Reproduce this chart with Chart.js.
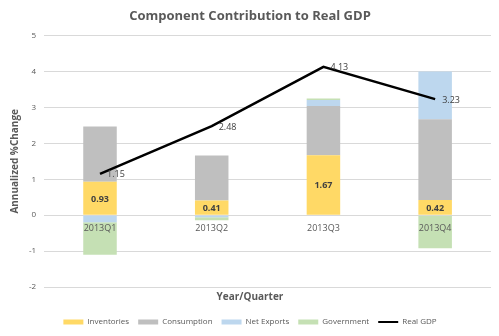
<!DOCTYPE html>
<html>
<head>
<meta charset="utf-8">
<script src="https://cdn.jsdelivr.net/npm/chart.js@4"></script>
<style>
  html, body { margin: 0; padding: 0; background: #fff; }
  #wrap { width: 499px; height: 336px; }
</style>
</head>
<body>
<div id="wrap"><canvas id="chart"></canvas></div>
<script>
const quarters = ["2013Q1", "2013Q2", "2013Q3", "2013Q4"];
const inventories = [0.93, 0.41, 1.67, 0.42];
const consumption = [1.54, 1.25, 1.37, 2.25];
const netExports = [-0.2, -0.06, 0.17, 1.33];
const government = [-0.9, -0.08, 0.04, -0.92];
const realGdp = [1.15, 2.48, 4.13, 3.23];

const textGray = "#595959";
const font = "'Open Sans', 'DejaVu Sans', sans-serif";

// draws value labels and category labels over the bars
const valueLabels = {
    id: "valueLabels",
    afterDatasetsDraw(chart) {
        const ctx = chart.ctx;
        const x = chart.scales.x, y = chart.scales.y;
        ctx.save();
        ctx.textBaseline = "middle";
        ctx.textAlign = "center";
        ctx.font = "9px " + font;
        ctx.fillStyle = textGray;
        quarters.forEach((q, i) => {
            ctx.fillText(q, x.getPixelForValue(i), y.getPixelForValue(0) + 13);
        });
        ctx.font = "bold 9px " + font;
        ctx.fillStyle = "#404040";
        chart.getDatasetMeta(0).data.forEach((bar, i) => {
            ctx.fillText(inventories[i].toFixed(2), bar.x, (bar.y + bar.base) / 2 + 1);
        });
        ctx.font = "9px " + font;
        ctx.textAlign = "left";
        chart.getDatasetMeta(4).data.forEach((pt, i) => {
            ctx.fillText(realGdp[i].toFixed(2), pt.x + 7, pt.y + 1);
        });
        ctx.restore();
    }
};

const barSet = (label, data, color) => ({
    type: "bar",
    label: label,
    data: data,
    backgroundColor: color,
    stack: "parts",
    order: 1,
    barPercentage: 0.3,
    categoryPercentage: 1
});

new Chart(document.getElementById("chart"), {
    data: {
        labels: quarters,
        datasets: [
            barSet("Inventories", inventories, "#FFD966"),
            barSet("Consumption", consumption, "#BFBFBF"),
            barSet("Net Exports", netExports, "#BDD7EE"),
            barSet("Government", government, "#C5E0B4"),
            {
                type: "line",
                label: "Real GDP",
                data: realGdp,
                borderColor: "#000",
                backgroundColor: "#000",
                borderWidth: 2.5,
                pointRadius: 0,
                stack: "gdp",
                order: 0
            }
        ]
    },
    options: {
        responsive: true,
        maintainAspectRatio: false,
        animation: false,
        layout: { padding: { left: 9, right: 8, top: 6, bottom: 0 } },
        plugins: {
            title: {
                display: true,
                text: "Component Contribution to Real GDP",
                color: textGray,
                font: { family: font, size: 13, weight: "bold" },
                padding: { top: 2, bottom: 12 }
            },
            subtitle: {
                display: true,
                position: "bottom",
                weight: 500,
                text: "Year/Quarter",
                color: textGray,
                font: { family: font, size: 10, weight: "bold" },
                padding: { top: 4, bottom: 6 }
            },
            legend: {
                position: "bottom",
                labels: {
                    color: textGray,
                    font: { family: font, size: 8 },
                    usePointStyle: true,
                    pointStyleWidth: 20,
                    boxHeight: 5,
                    padding: 9,
                    sort: (a, b) => a.datasetIndex - b.datasetIndex,
                    generateLabels(chart) {
                        const items = Chart.defaults.plugins.legend.labels.generateLabels(chart);
                        items.forEach(it => {
                            if (it.datasetIndex === 4) {
                                it.pointStyle = "line";
                                it.lineWidth = 2;
                                it.strokeStyle = "#000";
                            } else {
                                it.pointStyle = "rect";
                                it.lineWidth = 0;
                            }
                        });
                        return items;
                    }
                }
            },
            tooltip: { enabled: false }
        },
        scales: {
            x: { display: false },
            y: {
                stacked: true,
                min: -2,
                max: 5,
                ticks: { stepSize: 1, color: textGray, font: { family: font, size: 8 }, padding: 8 },
                grid: { color: "#D9D9D9", drawTicks: false },
                border: { display: false },
                title: {
                    display: true,
                    text: "Annualized %Change",
                    color: textGray,
                    font: { family: font, size: 10, weight: "bold" },
                    padding: 0
                }
            }
        }
    },
    plugins: [valueLabels]
});
</script>
</body>
</html>
